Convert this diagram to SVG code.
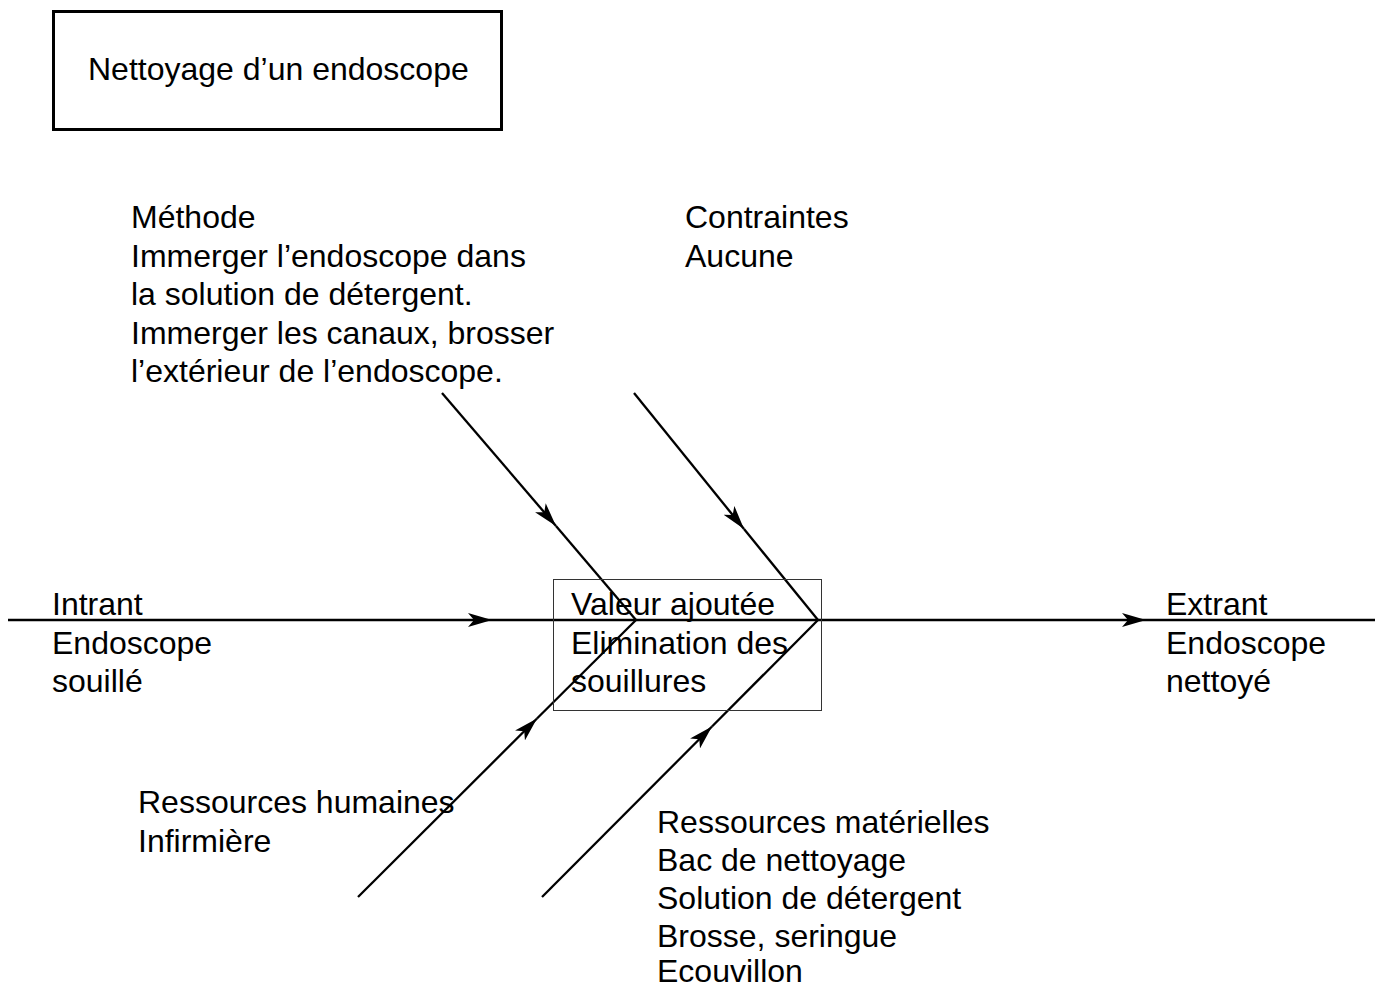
<svg xmlns="http://www.w3.org/2000/svg" width="1378" height="989" viewBox="0 0 1378 989">
<style>
text{font-family:"Liberation Sans",Arial,sans-serif;font-size:32px;fill:#000}
.ln{stroke:#000;stroke-width:2.3;fill:none}
</style>
<defs>
<marker id="arr" viewBox="0 0 24 14" refX="24" refY="7" markerWidth="24" markerHeight="14" markerUnits="userSpaceOnUse" orient="auto">
<path d="M0,0 L24,7 L0,14 L6,7 z" fill="#000"/>
</marker>
</defs>
<rect width="1378" height="989" fill="#fff"/>
<g id="title">
<rect x="53.5" y="11.5" width="448" height="118" fill="none" stroke="#000" stroke-width="3"/>
<text x="88" y="80">Nettoyage d’un endoscope</text>
</g>
<g id="connectors">
<path class="ln" d="M8,620 L492,620" marker-end="url(#arr)"/>
<path class="ln" d="M492,620 L1146,620" marker-end="url(#arr)"/>
<path class="ln" d="M1146,620 L1375,620"/>
<path class="ln" d="M442,393 L556,526" marker-end="url(#arr)"/>
<path class="ln" d="M556,526 L636,620"/>
<path class="ln" d="M634,393 L744,529" marker-end="url(#arr)"/>
<path class="ln" d="M744,529 L818,620"/>
<path class="ln" d="M358,897 L537,718.5" marker-end="url(#arr)"/>
<path class="ln" d="M537,718.5 L636,620"/>
<path class="ln" d="M542,897 L712,726.5" marker-end="url(#arr)"/>
<path class="ln" d="M712,726.5 L818,620"/>
</g>
<g id="valeur">
<rect x="553.5" y="579.5" width="268" height="131" fill="none" stroke="#333" stroke-width="1"/>
<text x="571" y="615">Valeur ajoutée</text>
<text x="571" y="653.5">Elimination des</text>
<text x="571" y="692">souillures</text>
</g>
<g id="methode">
<text x="131" y="228">Méthode</text>
<text x="131" y="266.5">Immerger l’endoscope dans</text>
<text x="131" y="305">la solution de détergent.</text>
<text x="131" y="343.5">Immerger les canaux, brosser</text>
<text x="131" y="382">l’extérieur de l’endoscope.</text>
</g>
<g id="contraintes">
<text x="685" y="228">Contraintes</text>
<text x="685" y="266.5">Aucune</text>
</g>
<g id="intrant">
<text x="52" y="615">Intrant</text>
<text x="52" y="653.5">Endoscope</text>
<text x="52" y="692">souillé</text>
</g>
<g id="extrant">
<text x="1166" y="615">Extrant</text>
<text x="1166" y="653.5">Endoscope</text>
<text x="1166" y="692">nettoyé</text>
</g>
<g id="rh">
<text x="138" y="813">Ressources humaines</text>
<text x="138" y="851.5">Infirmière</text>
</g>
<g id="rm">
<text x="657" y="833">Ressources matérielles</text>
<text x="657" y="871">Bac de nettoyage</text>
<text x="657" y="909">Solution de détergent</text>
<text x="657" y="947">Brosse, seringue</text>
<text x="657" y="982">Ecouvillon</text>
</g>
</svg>
